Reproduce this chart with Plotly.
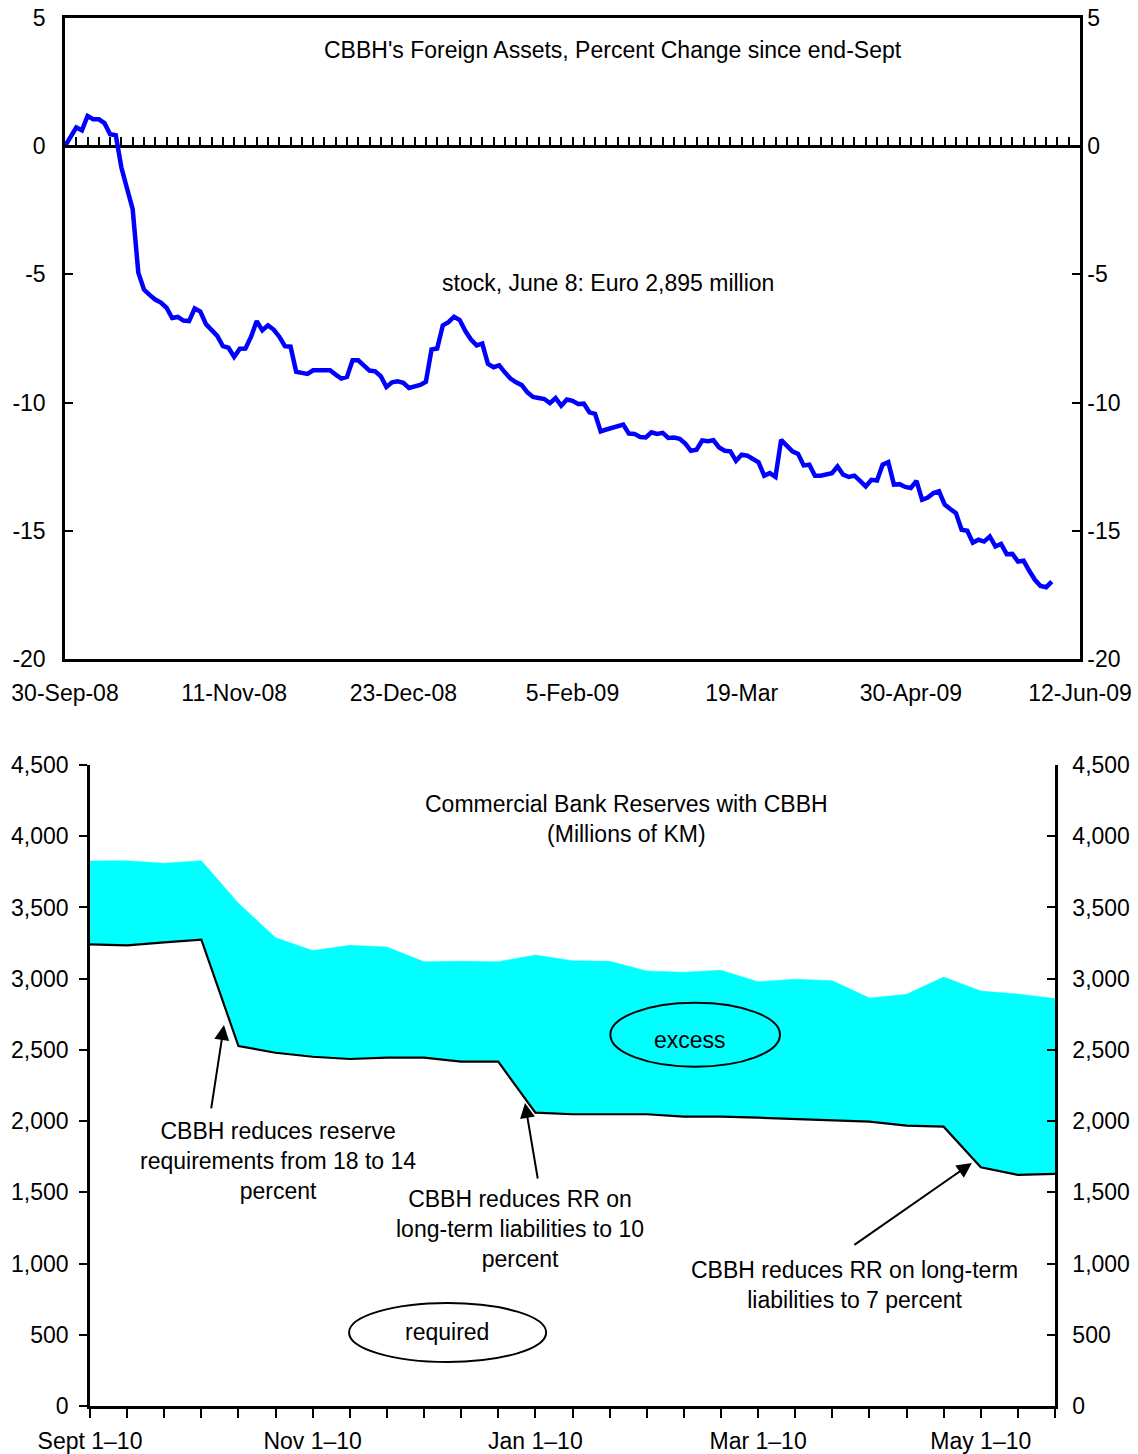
import plotly.graph_objects as go

W, H = 1138, 1454
FONT = "Liberation Sans, Arial, sans-serif"
FS = 23

# ---------------- Top chart data ----------------
# CBBH foreign assets, percent change since end-Sept (business days from 30-Sep-08)
FA_PCT_CHANGE = [
    0.0, 0.35, 0.73, 0.62, 1.18, 1.05, 1.05, 0.9, 0.47, 0.43,
    -0.83, -1.65, -2.46, -4.93, -5.59, -5.8, -5.98, -6.1, -6.3, -6.7,
    -6.66, -6.8, -6.82, -6.33, -6.45, -6.94, -7.2, -7.4, -7.8, -7.86,
    -8.22, -7.9, -7.89, -7.43, -6.82, -7.18, -6.99, -7.15, -7.43, -7.8,
    -7.82, -8.8, -8.84, -8.88, -8.74, -8.74, -8.71, -8.74, -8.91, -9.06,
    -9.0, -8.35, -8.35, -8.55, -8.75, -8.78, -8.97, -9.39, -9.21, -9.17,
    -9.23, -9.43, -9.39, -9.31, -9.19, -7.93, -7.89, -6.99, -6.86, -6.65,
    -6.78, -7.21, -7.54, -7.77, -7.7, -8.49, -8.62, -8.55, -8.82, -9.06,
    -9.21, -9.32, -9.6, -9.78, -9.82, -9.86, -10.02, -9.82, -10.12, -9.88,
    -9.93, -10.05, -10.04, -10.38, -10.44, -11.12, -11.05, -10.99, -10.93, -10.86,
    -11.21, -11.22, -11.34, -11.36, -11.16, -11.22, -11.18, -11.38, -11.36, -11.41,
    -11.6, -11.88, -11.84, -11.48, -11.51, -11.47, -11.75, -11.88, -11.9, -12.27,
    -12.03, -12.07, -12.2, -12.33, -12.85, -12.75, -12.9, -11.45, -11.68, -11.9,
    -12.0, -12.45, -12.42, -12.85, -12.85, -12.79, -12.75, -12.49, -12.81, -12.9,
    -12.85, -13.05, -13.27, -13.01, -13.04, -12.42, -12.32, -13.2, -13.18, -13.29,
    -13.33, -13.05, -13.79, -13.7, -13.53, -13.46, -13.98, -14.15, -14.31, -14.96,
    -15.0, -15.46, -15.35, -15.42, -15.22, -15.61, -15.51, -15.91, -15.9, -16.2,
    -16.17, -16.56, -16.91, -17.15, -17.2, -16.98,
]
FA_TICK_LABELS = ["30-Sep-08", "11-Nov-08", "23-Dec-08", "5-Feb-09",
                  "19-Mar", "30-Apr-09", "12-Jun-09"]
FA_TICK_STEP = 30          # business days between labels
FA_LAST_CATEGORY = 180     # 12-Jun-09
FA_MINOR_STEP = 2
FA_Y_TICKS = [5, 0, -5, -10, -15, -20]

# ---------------- Bottom chart data ----------------
PERIODS = ["Sept 1–10", "Sept 11–20", "Sept 21–30", "Oct 1–10", "Oct 11–20", "Oct 21–31",
           "Nov 1–10", "Nov 11–20", "Nov 21–30", "Dec 1–10", "Dec 11–20", "Dec 21–31",
           "Jan 1–10", "Jan 11–20", "Jan 21–31", "Feb 1–10", "Feb 11–20", "Feb 21–28",
           "Mar 1–10", "Mar 11–20", "Mar 21–31", "Apr 1–10", "Apr 11–20", "Apr 21–30",
           "May 1–10", "May 11–20", "May 21–31"]
RESERVES_TOTAL = [3826, 3828, 3810, 3828, 3529, 3288, 3197, 3234, 3222, 3119, 3122, 3119,
                  3166, 3126, 3122, 3054, 3045, 3059, 2979, 2996, 2986, 2864, 2890, 3012,
                  2913, 2892, 2860]
RESERVES_REQUIRED = [3241, 3234, 3255, 3274, 2527, 2480, 2452, 2436, 2445, 2445, 2417, 2417,
                     2059, 2048, 2048, 2048, 2031, 2031, 2024, 2015, 2006, 1997, 1968, 1961,
                     1676, 1622, 1629]
PERIOD_LABEL_STEP = 6
RES_Y_TICKS = list(range(0, 4501, 500))

# ---------------- Layout geometry (pixels) ----------------
def px_x(p):
    return p / W

def px_y(p):
    return 1 - p / H

top_dom_x = [px_x(65), px_x(1080)]
top_dom_y = [px_y(659), px_y(18)]
bot_dom_x = [px_x(90), px_x(1055)]
bot_dom_y = [px_y(1406), px_y(765)]
zero_pos = top_dom_y[0] + (0 - (-20)) / 25 * (top_dom_y[1] - top_dom_y[0])

fig = go.Figure()

# top line
fig.add_trace(go.Scatter(x=list(range(len(FA_PCT_CHANGE))), y=FA_PCT_CHANGE,
                         mode="lines", line=dict(color="#0000FF", width=4.5),
                         xaxis="x", yaxis="y", hoverinfo="skip"))
# helper traces to register overlay axes
fig.add_trace(go.Scatter(x=[0, FA_LAST_CATEGORY], y=[0, 0], mode="lines",
                         line=dict(color="rgba(0,0,0,0)", width=1),
                         xaxis="x3", yaxis="y", hoverinfo="skip"))
fig.add_trace(go.Scatter(x=[0, FA_LAST_CATEGORY], y=[0, 0], mode="lines",
                         line=dict(color="rgba(0,0,0,0)", width=1),
                         xaxis="x", yaxis="y2", hoverinfo="skip"))

# bottom area
xi = list(range(len(PERIODS)))
fig.add_trace(go.Scatter(x=xi, y=RESERVES_REQUIRED, mode="lines",
                         line=dict(color="rgba(0,0,0,0)", width=0),
                         xaxis="x4", yaxis="y4", hoverinfo="skip"))
fig.add_trace(go.Scatter(x=xi, y=RESERVES_TOTAL, mode="lines", fill="tonexty",
                         fillcolor="#00FFFF", line=dict(color="#00FFFF", width=0.5),
                         xaxis="x4", yaxis="y4", hoverinfo="skip"))
fig.add_trace(go.Scatter(x=xi, y=RESERVES_REQUIRED, mode="lines",
                         line=dict(color="black", width=2.2),
                         xaxis="x4", yaxis="y4", hoverinfo="skip"))
fig.add_trace(go.Scatter(x=[0, 26], y=[0, 0], mode="lines",
                         line=dict(color="rgba(0,0,0,0)", width=1),
                         xaxis="x4", yaxis="y5", hoverinfo="skip"))

tick_font = dict(family=FONT, size=FS, color="black")
top_x_vals = [i * FA_TICK_STEP for i in range(len(FA_TICK_LABELS))]

fig.update_layout(
    width=W, height=H, margin=dict(l=0, r=0, t=0, b=0, autoexpand=False),
    paper_bgcolor="white", plot_bgcolor="white", showlegend=False,
    font=dict(family=FONT, size=FS, color="black"),
    xaxis=dict(domain=top_dom_x, anchor="y", range=[0, FA_LAST_CATEGORY], automargin=False,
               tickmode="array", tickvals=top_x_vals, ticktext=FA_TICK_LABELS,
               ticks="", ticklabelstandoff=11, tickfont=tick_font,
               showline=True, linecolor="black", linewidth=3, mirror=True,
               showgrid=False, zeroline=False),
    xaxis3=dict(overlaying="x", anchor="free", position=zero_pos, side="bottom", automargin=False,
                range=[0, FA_LAST_CATEGORY], tickmode="linear", tick0=0, dtick=FA_MINOR_STEP,
                ticks="inside", ticklen=8, tickwidth=2, tickcolor="black",
                showticklabels=False, showline=True, linecolor="black", linewidth=3,
                showgrid=False, zeroline=False, layer="below traces"),
    yaxis=dict(domain=top_dom_y, anchor="x", range=[-20, 5], automargin=False,
               tickmode="array", tickvals=FA_Y_TICKS, ticktext=[str(v) for v in FA_Y_TICKS],
               ticks="inside", ticklen=8, tickwidth=2, tickcolor="black",
               ticklabelstandoff=12, tickfont=tick_font,
               showline=True, linecolor="black", linewidth=2.5,
               showgrid=False, zeroline=False),
    yaxis2=dict(overlaying="y", side="right", anchor="x", range=[-20, 5], automargin=False,
                tickmode="array", tickvals=FA_Y_TICKS, ticktext=[str(v) for v in FA_Y_TICKS],
                ticks="inside", ticklen=8, tickwidth=2, tickcolor="black",
                ticklabelstandoff=0, tickfont=tick_font,
                showline=True, linecolor="black", linewidth=2.5,
                showgrid=False, zeroline=False),
    xaxis4=dict(domain=bot_dom_x, anchor="y4", range=[0, len(PERIODS) - 1], automargin=False,
                tickmode="array", tickvals=xi,
                ticktext=[p if i % PERIOD_LABEL_STEP == 0 else "" for i, p in enumerate(PERIODS)],
                ticks="outside", ticklen=9, tickwidth=2, tickcolor="black",
                ticklabelstandoff=3, tickfont=tick_font,
                showline=True, linecolor="black", linewidth=3,
                showgrid=False, zeroline=False),
    yaxis4=dict(domain=bot_dom_y, anchor="x4", range=[0, 4500], automargin=False,
                tickmode="array", tickvals=RES_Y_TICKS, tickformat=",d",
                ticks="outside", ticklen=8, tickwidth=2, tickcolor="black",
                ticklabelstandoff=6, tickfont=tick_font,
                showline=True, linecolor="black", linewidth=2.5,
                showgrid=False, zeroline=False),
    yaxis5=dict(overlaying="y4", side="right", anchor="x4", range=[0, 4500], automargin=False,
                tickmode="array", tickvals=RES_Y_TICKS, tickformat=",d",
                ticks="inside", ticklen=8, tickwidth=2, tickcolor="black",
                ticklabelstandoff=10, tickfont=tick_font,
                showline=True, linecolor="black", linewidth=2.5,
                showgrid=False, zeroline=False),
)

ann_font = dict(family=FONT, size=FS, color="black")
annotations = [
    dict(text="CBBH's Foreign Assets, Percent Change since end-Sept",
         xref="paper", yref="paper", x=px_x(613), y=px_y(50),
         showarrow=False, font=ann_font, xanchor="center", yanchor="middle"),
    dict(text="stock, June 8: Euro 2,895 million",
         xref="paper", yref="paper", x=px_x(608), y=px_y(283),
         showarrow=False, font=ann_font, xanchor="center", yanchor="middle"),
    dict(text="Commercial Bank Reserves with CBBH<br>(Millions of KM)",
         xref="paper", yref="paper", x=px_x(626), y=px_y(819),
         showarrow=False, font=ann_font, xanchor="center", yanchor="middle"),
    dict(text="excess", xref="x4", yref="y4", x=16.17, y=2570,
         showarrow=False, font=ann_font),
    dict(text="required", xref="x4", yref="y4", x=9.62, y=520,
         showarrow=False, font=ann_font),
    dict(text="CBBH reduces reserve<br>requirements from 18 to 14<br>percent",
         xref="x4", yref="y4", x=5.07, y=1720, showarrow=False, font=ann_font),
    dict(text="CBBH reduces RR on<br>long-term liabilities to 10<br>percent",
         xref="x4", yref="y4", x=11.59, y=1243, showarrow=False, font=ann_font),
    dict(text="CBBH reduces RR on long-term<br>liabilities to 7 percent",
         xref="x4", yref="y4", x=20.61, y=850, showarrow=False, font=ann_font),
    # arrows
    dict(text="", xref="x4", yref="y4", x=3.61, y=2675, ax=-13, ay=85,
         showarrow=True, arrowhead=2, arrowsize=1.5, arrowwidth=2, arrowcolor="black"),
    dict(text="", xref="x4", yref="y4", x=11.72, y=2127, ax=13, ay=77,
         showarrow=True, arrowhead=2, arrowsize=1.5, arrowwidth=2, arrowcolor="black"),
    dict(text="", xref="x4", yref="y4", x=23.76, y=1706, ax=-119, ay=83,
         showarrow=True, arrowhead=2, arrowsize=1.5, arrowwidth=2, arrowcolor="black"),
]
fig.update_layout(annotations=annotations)

fig.update_layout(shapes=[
    dict(type="circle", xref="x4", yref="y4", x0=14.02, x1=18.59, y0=2382, y1=2831,
         line=dict(color="black", width=2), fillcolor="rgba(0,0,0,0)"),
    dict(type="circle", xref="x4", yref="y4", x0=6.98, x1=12.29, y0=309, y1=723,
         line=dict(color="black", width=2), fillcolor="rgba(0,0,0,0)"),
])

fig.write_html("out.html", config={"displayModeBar": False},
               post_script="document.body.style.margin='0';document.body.style.padding='0';")
